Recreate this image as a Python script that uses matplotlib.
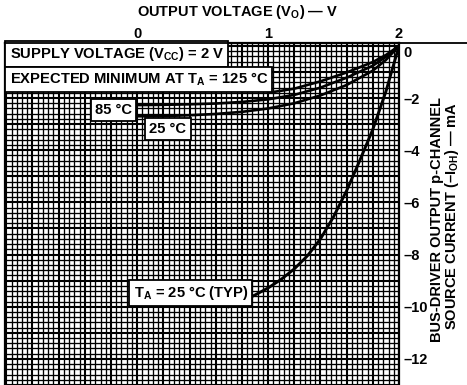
import numpy as np
import matplotlib
matplotlib.use("Agg")
import matplotlib.pyplot as plt
import matplotlib.transforms as mtransforms
from matplotlib.ticker import MultipleLocator, FuncFormatter
from matplotlib.lines import Line2D

plt.rcParams['font.family'] = ['Liberation Sans', 'DejaVu Sans']
plt.rcParams['font.weight'] = 'bold'
plt.rcParams['mathtext.fontset'] = 'custom'
plt.rcParams['mathtext.rm'] = 'Liberation Sans:bold'
plt.rcParams['mathtext.it'] = 'Liberation Sans:bold'
plt.rcParams['mathtext.bf'] = 'Liberation Sans:bold'
plt.rcParams['mathtext.default'] = 'rm'

# ---- data (V_O in volts, I_OH in mA) ----
v_25min = [0.0, 0.2, 0.4, 0.6, 0.8, 1.0, 1.2, 1.4, 1.6, 1.8, 1.9, 2.0]
i_25min = [-2.70, -2.69, -2.66, -2.61, -2.53, -2.40, -2.20, -1.90, -1.50, -0.95, -0.54, 0.0]

v_85min = [0.0, 0.2, 0.4, 0.6, 0.8, 1.0, 1.2, 1.4, 1.6, 1.8, 1.9, 2.0]
i_85min = [-2.27, -2.26, -2.24, -2.21, -2.15, -2.05, -1.88, -1.60, -1.22, -0.76, -0.42, 0.0]

v_125min = [1.0, 1.2, 1.4, 1.6, 1.8, 1.9, 2.0]
i_125min = [-1.80, -1.64, -1.36, -1.02, -0.62, -0.35, 0.0]

v_typ = [0.7, 0.8, 0.9, 1.0, 1.1, 1.2, 1.3, 1.4, 1.5, 1.6, 1.7, 1.8, 1.9, 2.0]
i_typ = [-10.0, -9.80, -9.55, -9.28, -8.95, -8.55, -8.05, -7.40, -6.55, -5.55, -4.40, -3.20, -1.75, 0.0]

x_tick_labels = [0, 1, 2]
y_tick_labels = [0, -2, -4, -6, -8, -10, -12]

W, H = 467, 385
fig = plt.figure(figsize=(W / 100, H / 100), dpi=100)
ax = fig.add_axes([5 / W, 0.0, (399 - 5) / W, 1 - 43 / H])
ax.set_xlim(-1.01, 2.0)
ax.set_ylim(-13.0, 0.11)

# grid
ax.xaxis.set_major_locator(MultipleLocator(0.2))
ax.xaxis.set_minor_locator(MultipleLocator(0.04))
ax.yaxis.set_major_locator(MultipleLocator(1.0))
ax.yaxis.set_minor_locator(MultipleLocator(0.2))
ax.grid(which='major', color='black', lw=1.5)
ax.grid(which='minor', color='black', lw=0.95)
ax.set_axisbelow(True)

def xfmt(v, pos):
    r = round(v)
    if abs(v - r) < 1e-6 and r in x_tick_labels:
        return str(int(r))
    return ''

def yfmt(v, pos):
    r = round(v)
    if abs(v - r) < 1e-6 and r in y_tick_labels:
        return str(int(r)) if r == 0 else '\u2013' + str(abs(int(r)))
    return ''

ax.xaxis.tick_top()
ax.yaxis.tick_right()
ax.xaxis.set_major_formatter(FuncFormatter(xfmt))
ax.yaxis.set_major_formatter(FuncFormatter(yfmt))
ax.tick_params(axis='both', which='both', length=0)
ax.tick_params(axis='x', pad=1.5, labelsize=10.5)
ax.tick_params(axis='y', pad=3.5, labelsize=10.5)
for lbl in ax.get_xticklabels() + ax.get_yticklabels():
    lbl.set_fontweight('bold')

for s in ['top', 'left', 'right']:
    ax.spines[s].set_linewidth(1.6)
ax.spines['bottom'].set_visible(False)

# top rule extending to figure edge
fig.add_artist(Line2D([5 / W, 1.0], [1 - 43 / H, 1 - 43 / H], color='black', lw=1.3))

lw = 1.9
ax.plot(v_25min, i_25min, color='black', lw=lw, zorder=3)
ax.plot(v_85min, i_85min, color='black', lw=lw, zorder=3)
ax.plot(v_125min, i_125min, color='black', lw=lw, zorder=3)
ax.plot(v_typ, i_typ, color='black', lw=2.1, zorder=3)

def box(x, y, s, ha='center'):
    ax.text(x, y, s, ha=ha, va='center', fontsize=10.6, fontweight='bold', zorder=5,
            bbox=dict(boxstyle='square,pad=0.28', fc='white', ec='black', lw=1.3))

box(-0.975, -0.30, 'SUPPLY VOLTAGE (V$_{\\rm CC}$) = 2 V', ha='left')
box(-0.975, -1.29, 'EXPECTED MINIMUM AT T$_{\\rm A}$ = 125 \u00b0C', ha='left')
box(-0.18, -2.46, '85 \u00b0C')
box(0.235, -3.19, '25 \u00b0C')
box(0.41, -9.47, 'T$_{\\rm A}$ = 25 \u00b0C (TYP)')

fig.text(238 / W, 1 - 12 / H, 'OUTPUT VOLTAGE (V$_{\\rm O}$) \u2014 V', ha='center', va='center',
         fontsize=10.5, fontweight='bold')
fig.text(437 / W, 1 - 219 / H, 'BUS-DRIVER OUTPUT p-CHANNEL', rotation=90, ha='center', va='center',
         fontsize=10.5, fontweight='bold')
fig.text(452 / W, 1 - 216 / H, 'SOURCE CURRENT (\u2013I$_{\\rm OH}$) \u2014 mA', rotation=90, ha='center',
         va='center', fontsize=10.5, fontweight='bold')

# shift the "0" label on the right slightly down, as in the reference
fig.canvas.draw()
for lbl in ax.get_yticklabels():
    if lbl.get_text() == '0':
        lbl.set_transform(lbl.get_transform() + mtransforms.ScaledTranslation(0, -6 / 100, fig.dpi_scale_trans))

fig.savefig('out.png', dpi=100)
